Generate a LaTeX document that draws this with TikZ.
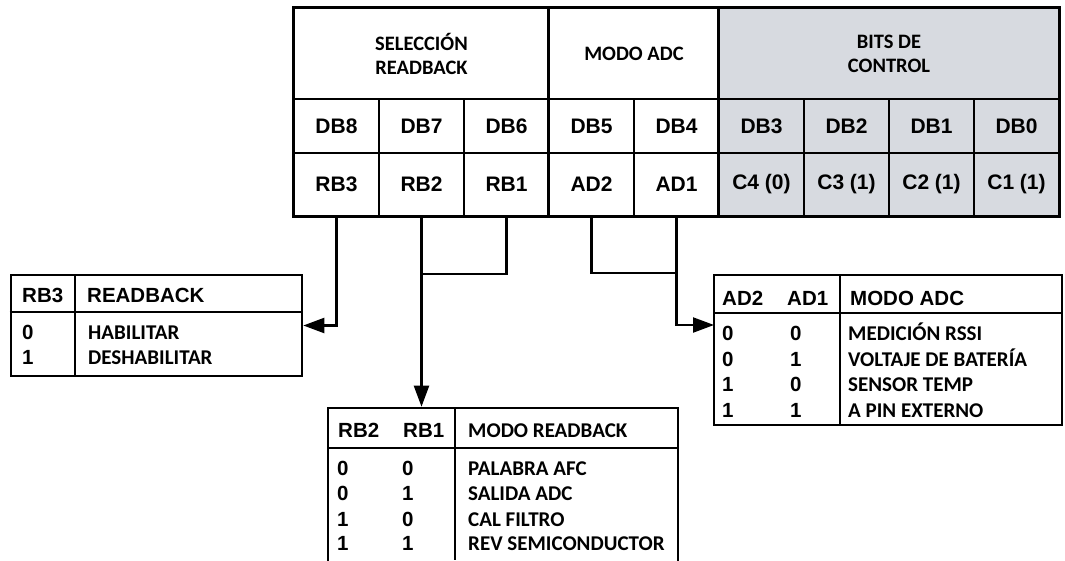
\documentclass[tikz,border=0pt]{standalone}
\usepackage{fontspec}
\setmainfont{Liberation Sans}
\newfontfamily\narrowfont{Carlito}
\usetikzlibrary{arrows.meta}

\definecolor{ctrlgray}{HTML}{D7DAE0}

\tikzset{
  cell/.style={draw, line width=1.6pt, inner sep=0pt, minimum width=85pt,
    font=\fontsize{21}{25}\selectfont\bfseries},
  ctrl/.style={fill=ctrlgray},
  hdr/.style={cell, minimum height=91pt, align=center,
    font=\fontsize{20.5}{24}\selectfont\narrowfont\bfseries},
  tbl/.style={draw, line width=2.6pt},
  bit/.style={anchor=base west, inner sep=0pt, font=\fontsize{20.5}{24}\selectfont\bfseries},
  mode/.style={anchor=base west, inner sep=0pt, font=\fontsize{21}{24}\selectfont\narrowfont\bfseries},
  wire/.style={line width=2.2pt},
}

\begin{document}
\begin{tikzpicture}[x=1pt, y=-1pt, >={Triangle[length=21pt,width=15pt]}]
  \useasboundingbox (0,0) rectangle (1065,560);
  \clip (0,0) rectangle (1065,560);

  % register
  \node[hdr, minimum width=255pt] (sel) at (421.5,53.5) {SELECCIÓN\\READBACK};
  \node[hdr, minimum width=170pt] (modo) at (634,53.5) {MODO ADC};
  \node[hdr, ctrl, minimum width=340pt] (bits) at (889,53.5) {BITS DE\\CONTROL};
  \foreach \n [count=\i from 0] in {8,7,6,5,4}
    \node[cell, minimum height=54pt] (db\n) at ({336.5+85*\i},126) {DB\n};
  \foreach \n [count=\i from 5] in {3,2,1,0}
    \node[cell, ctrl, minimum height=54pt] (db\n) at ({336.5+85*\i},126) {DB\n};
  \foreach \nm/\lab [count=\i from 0] in {rb3/RB3, rb2/RB2, rb1/RB1, ad2/AD2, ad1/AD1}
    \node[cell, minimum height=63pt] (\nm) at ({336.5+85*\i},184.5) {\lab};
  \foreach \nm/\lab [count=\i from 5] in {c4/{C4 (0)}, c3/{C3 (1)}, c2/{C2 (1)}, c1/{C1 (1)}}
    \node[cell, ctrl, minimum height=63pt] (\nm) at ({336.5+85*\i},184.5) {\lab};
  \draw[tbl] (sel.north west) rectangle (c1.south east);
  \draw[tbl] (modo.north west) -- (ad2.south west);
  \draw[tbl] (bits.north west) -- (c4.south west);

  % readback box
  \node[tbl, minimum width=291pt, minimum height=101pt] (rbbox) at (156.5,325.5) {};
  \draw[line width=1.6pt] (rbbox.west |- 0,312) -- (rbbox.east |- 0,312);
  \draw[line width=1.6pt] (75,275) -- (75,376);
  \node[bit] (rb3h) at (22,302) {RB3};
  \node[bit] (rbh) at (87,302) {READBACK};
  \node[bit] (rb3a) at (22,339) {0};
  \node[bit] (rb3b) at (22,364) {1};
  \node[mode] (rbta) at (88,339) {HABILITAR};
  \node[mode] (rbtb) at (88,364) {DESHABILITAR};

  % modo readback box
  \node[tbl, minimum width=350pt, minimum height=170pt] (mrbox) at (503,493) {};
  \draw[line width=1.6pt] (328,448) -- (678,448);
  \draw[line width=1.6pt] (455,408) -- (455,560);
  \node[bit] (mr2h) at (338,437) {RB2};
  \node[bit] (mr1h) at (403,437) {RB1};
  \node[mode] (mrh) at (468,437) {MODO READBACK};
  \foreach \a/\b/\t/\y [count=\k] in {0/0/PALABRA AFC/475, 0/1/SALIDA ADC/500,
      1/0/CAL FILTRO/526, 1/1/REV SEMICONDUCTOR/550} {
    \node[bit] (mr2v\k) at (337,\y) {\a};
    \node[bit] (mr1v\k) at (402,\y) {\b};
    \node[mode] (mrt\k) at (468,\y) {\t};
  }

  % modo adc box
  \node[tbl, minimum width=348pt, minimum height=150pt] (adbox) at (888,350) {};
  \draw[line width=1.6pt] (714,313) -- (1062,313);
  \draw[line width=1.6pt] (840,275) -- (840,425);
  \node[bit] (ad2h) at (722,305) {AD2};
  \node[bit] (ad1h) at (787,305) {AD1};
  \node[bit] (adh) at (850,305) {MODO ADC};
  \foreach \a/\b/\t/\y [count=\k] in {0/0/MEDICIÓN RSSI/340, 0/1/VOLTAJE DE BATERÍA/366,
      1/0/SENSOR TEMP/391, 1/1/A PIN EXTERNO/417} {
    \node[bit] (ad2v\k) at (722,\y) {\a};
    \node[bit] (ad1v\k) at (790,\y) {\b};
    \node[mode] (adt\k) at (848,\y) {\t};
  }

  % connectors
  \coordinate (rbjoin) at (421.5,274);
  \coordinate (adjoin) at (676.5,273);
  \coordinate (adin) at (714,325);
  \draw[wire,->] (rb3.south) |- (rbbox.east);
  \draw[wire,->] (rb2.south) -- (rb2.south |- mrbox.north);
  \draw[wire] (rb1.south) |- (rbjoin);
  \draw[wire] (ad2.south) |- (adjoin);
  \draw[wire,->] (ad1.south) |- (adin);
\end{tikzpicture}
\end{document}
